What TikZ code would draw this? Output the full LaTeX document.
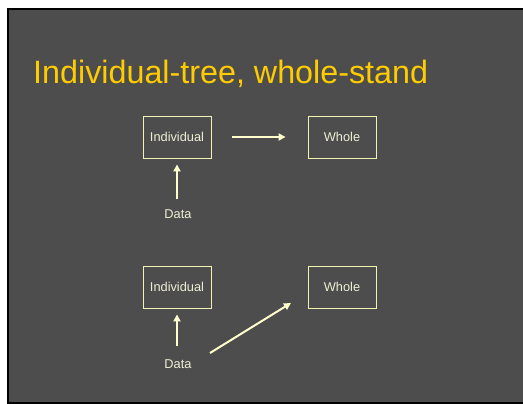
\documentclass[tikz,border=0pt]{standalone}
\usepackage{fontspec}
\setmainfont{Liberation Sans}
\usetikzlibrary{arrows.meta}

\definecolor{slidegray}{HTML}{4D4D4D}
\definecolor{titleyellow}{HTML}{FFCC00}
\definecolor{boxline}{HTML}{F2F2B3}
\definecolor{boxtext}{HTML}{EEEED6}
\definecolor{arrowcol}{HTML}{FFFFCC}

\begin{document}
\begin{tikzpicture}[
  x=1pt, y=-1pt,
  every node/.style={inner sep=0pt},
  box/.style={draw=boxline, line width=0.9pt, minimum width=68pt, minimum height=42pt,
    text=boxtext, font=\fontsize{12.8}{15}\selectfont},
  datalabel/.style={text=boxtext, font=\fontsize{12.8}{15}\selectfont},
  arrow/.style={draw=arrowcol, line width=2pt, -{Triangle[length=7pt, width=7pt]}},
  title/.style={anchor=base west, text=titleyellow, font=\fontsize{32.3}{38}\selectfont}]

  % ---- page, frame and slide background -----------------------------------
  \useasboundingbox (0,0) rectangle (523,404);
  \fill[white] (0,0) rectangle (523,404);
  \fill[black] (7,8) rectangle (523,404);
  \fill[slidegray] (9,10) rectangle (523,402);

  % ---- title --------------------------------------------------------------
  \node[title] (heading) at (33,84) {Individual-tree, whole-stand};

  % ---- upper diagram: data feeds the individual model, which feeds the whole
  \node[box] (ind1) at (177,137) {Individual};
  \node[box] (whole1) at (342,137) {Whole};
  \node[datalabel] (data1) at (178,214) {Data};
  \draw[arrow, shorten <=21pt, shorten >=22pt] (ind1) -- (whole1);
  \draw[arrow, shorten <=10pt, shorten >=6pt] (data1.north -| ind1.south) -- (ind1.south);

  % ---- lower diagram: data feeds both models directly ---------------------
  \node[box] (ind2) at (177,287) {Individual};
  \node[box] (whole2) at (342,287) {Whole};
  \node[datalabel] (data2) at (178,364) {Data};
  \coordinate (diagstart) at (210,353);
  \coordinate (diagend) at (291,303);
  \draw[arrow, shorten <=13pt, shorten >=6pt] (data2.north -| ind2.south) -- (ind2.south);
  \draw[arrow] (diagstart) -- (diagend);
\end{tikzpicture}
\end{document}
